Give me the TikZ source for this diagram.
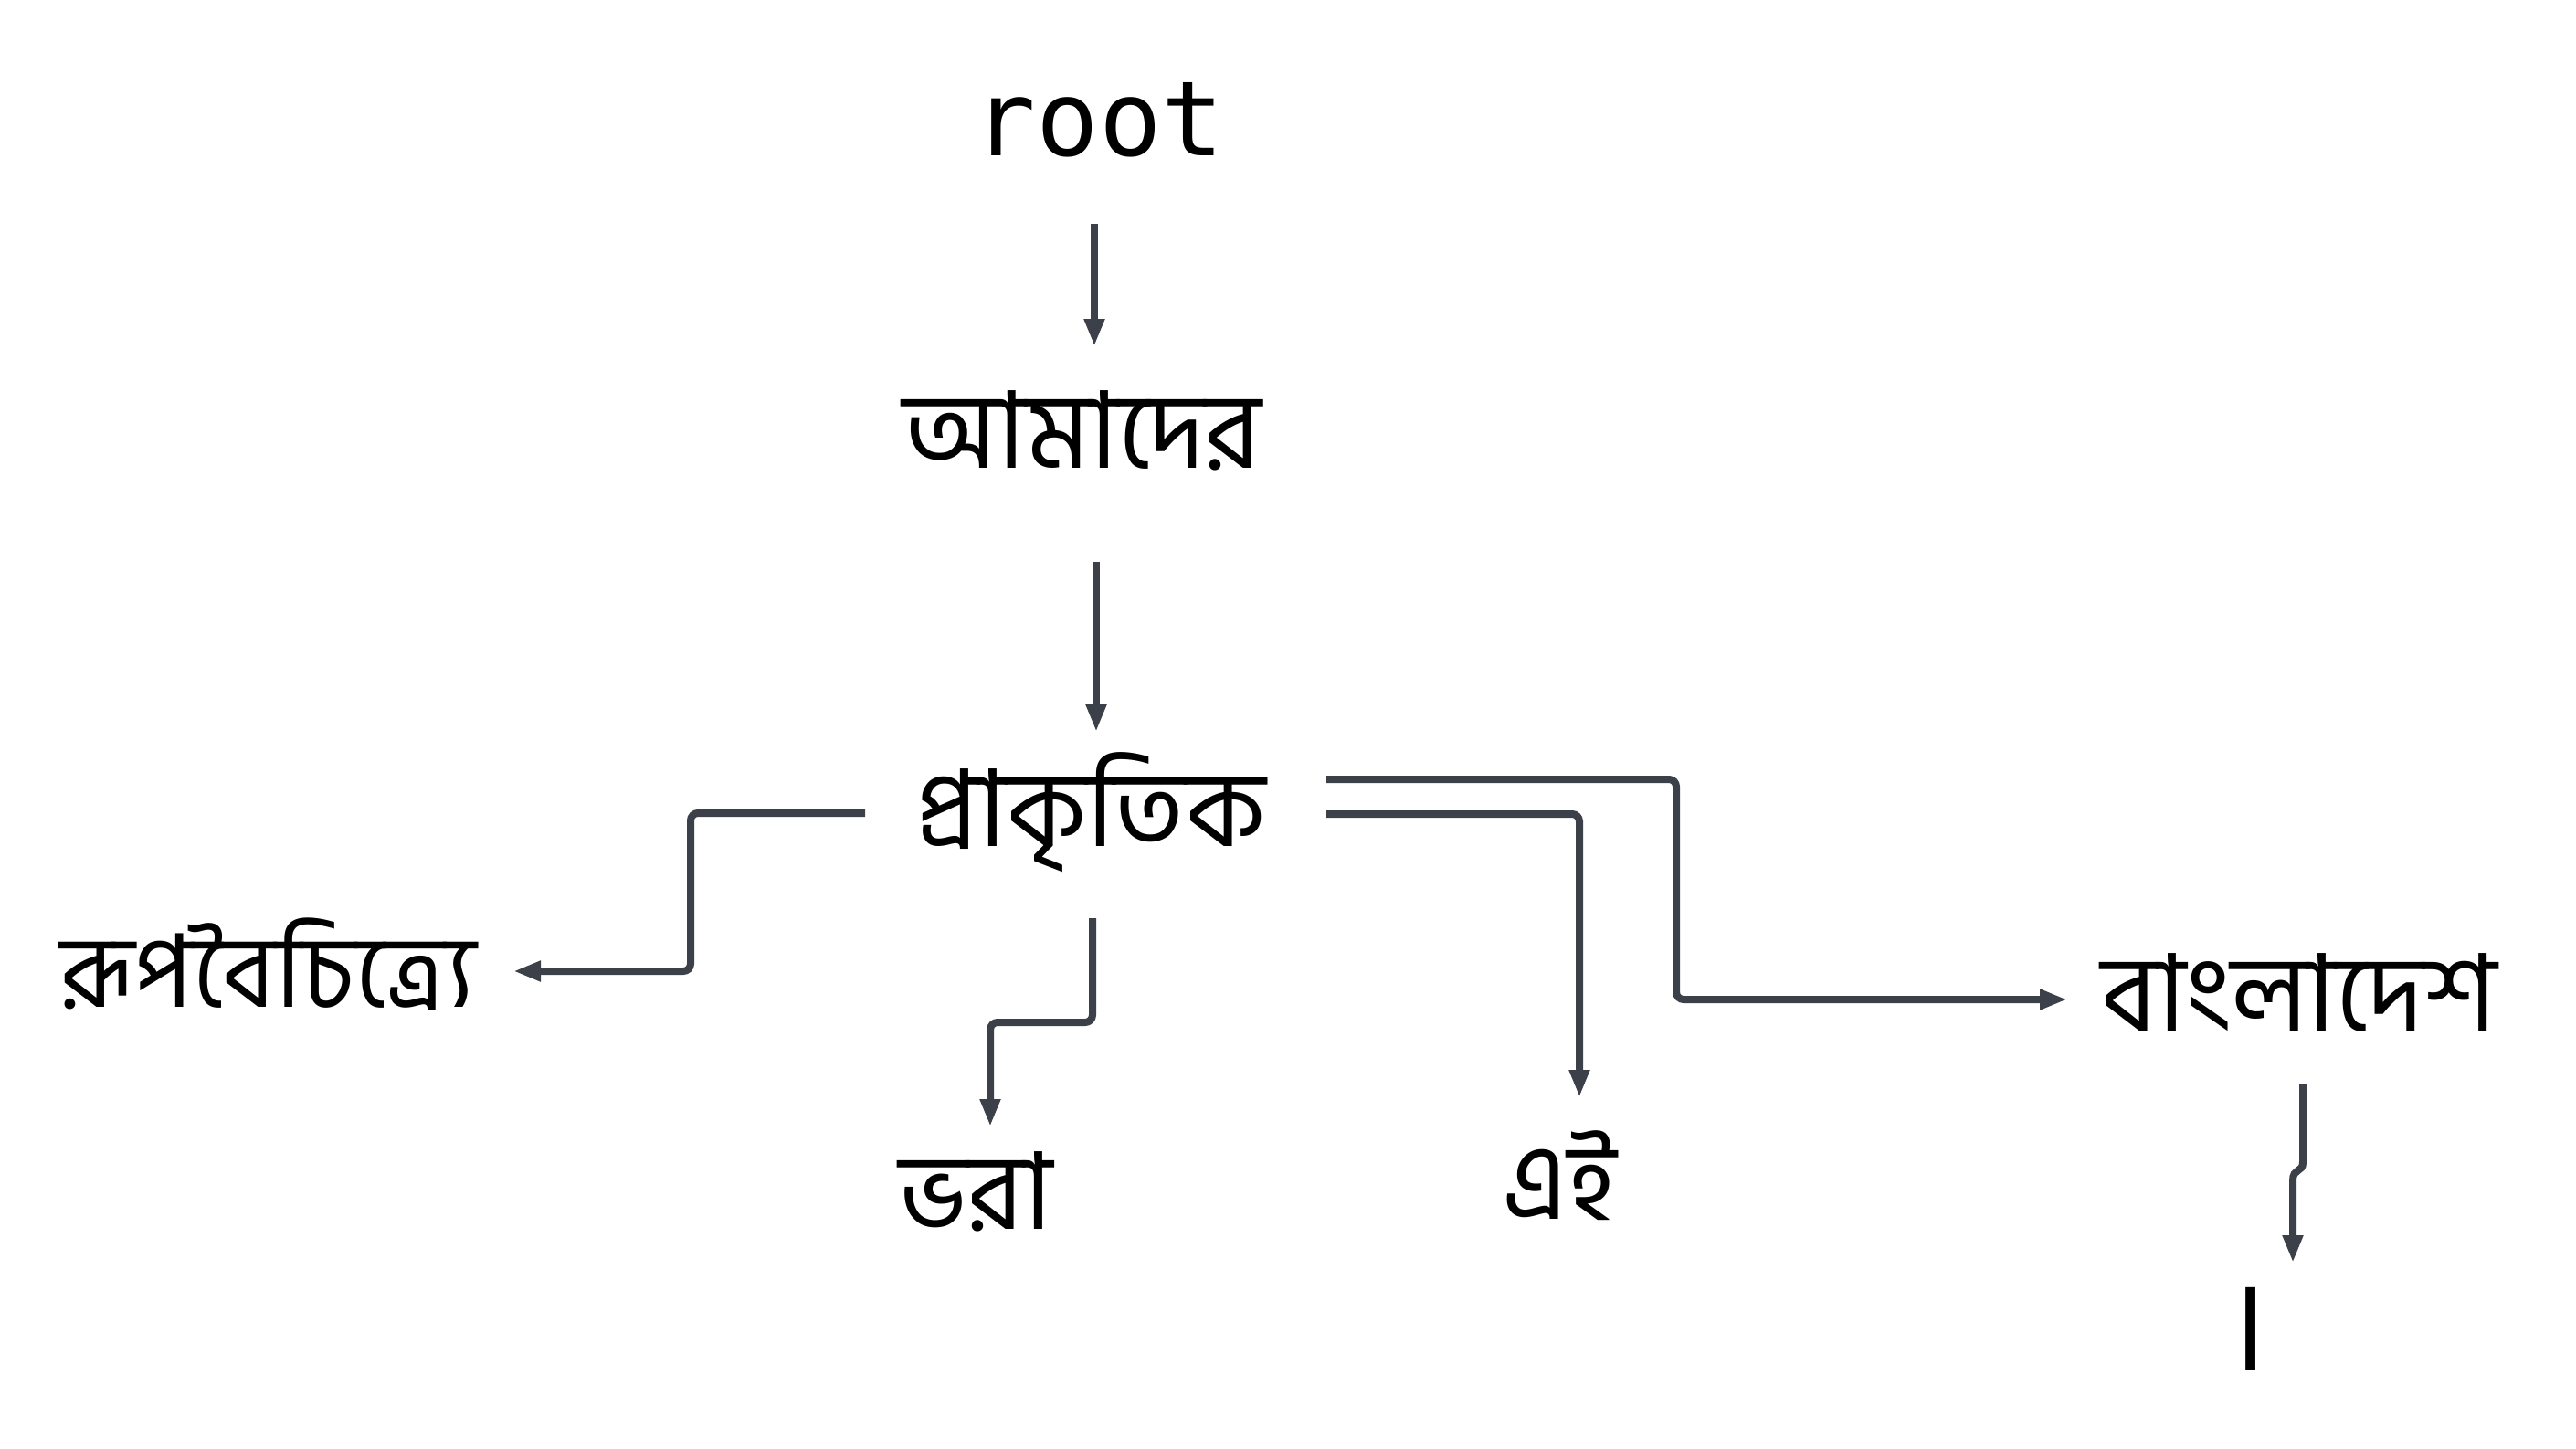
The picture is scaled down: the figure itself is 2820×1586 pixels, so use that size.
\documentclass[tikz,border=0pt]{standalone}
\usepackage{fontspec}
\newfontfamily\bnfont[Script=Bengali]{Hind Siliguri}
\newfontfamily\monofont{DejaVu Sans Mono}
\usetikzlibrary{arrows.meta,calc}
\definecolor{linec}{RGB}{60,64,72}
\begin{document}
\begin{tikzpicture}[x=1pt,y=-1pt,
  word/.style={inner sep=0pt, anchor=base, text=black, font=\bnfont\fontsize{117}{130}\selectfont},
  mword/.style={inner sep=0pt, anchor=base, text=black, font=\monofont\fontsize{114}{130}\selectfont},
  conn/.style={draw=linec, line width=8pt, rounded corners=8pt, -{Triangle[length=30pt,width=21pt]}}]
\useasboundingbox (0,0) rectangle (2820,1586);
\fill[white] (0,0) rectangle (2820,1586);
% words
\node[mword] (root) at (1203,170.5) {root};
\node[word] (amader) at (1185,512) {আমাদের};
\node[word] (prak) at (1194,926) {প্রাকৃতিক};
\node[word, font=\bnfont\fontsize{111}{130}\selectfont] (rup) at (294,1102) {রূপবৈচিত্র্যে};
\node[word] (bhora) at (1068,1345) {ভরা};
\node[word] (ei) at (1707,1334) {এই};
\node[word] (bd) at (2517,1128) {বাংলাদেশ};
\node[word, font=\bnfont\fontsize{142}{150}\selectfont] (dari) at (2461,1500) {।};
% ports
\coordinate (rootS) at ($(root.base)+(-5,74.5)$);
\coordinate (amN) at ($(amader.base)+(13,-133)$);
\coordinate (amS) at ($(amader.base)+(15,103)$);
\coordinate (pN) at ($(prak.base)+(6,-125)$);
\coordinate (pW) at ($(prak.base)+(-247,-36)$);
\coordinate (pS) at ($(prak.base)+(2,79)$);
\coordinate (pE1) at ($(prak.base)+(258,-35)$);
\coordinate (pE2) at ($(prak.base)+(258,-73)$);
\coordinate (rE) at ($(rup.base)+(268,-39)$);
\coordinate (bN) at ($(bhora.base)+(16,-112)$);
\coordinate (eN) at ($(ei.base)+(22,-133)$);
\coordinate (bdW) at ($(bd.base)+(-254,-34)$);
\coordinate (bdS) at ($(bd.base)+(4,59)$);
\coordinate (dN) at ($(dari.base)+(49,-118)$);
% connectors
\draw[conn] (rootS) -- (amN);
\draw[conn] (amS) -- (pN);
\draw[conn] (pW) -- (756,890) -- (756,1063) -- (rE);
\draw[conn] (pS) -- (1196,1119) -- (1084,1119) -- (bN);
\draw[conn] (pE1) -- (1729,891) -- (eN);
\draw[conn] (pE2) -- (1835,853) -- (1835,1094) -- (bdW);
\draw[conn, rounded corners=0pt] (bdS) -- (2521,1272) .. controls (2521,1284) and (2510,1278) .. (2510,1292) -- (dN);
\end{tikzpicture}
\end{document}
